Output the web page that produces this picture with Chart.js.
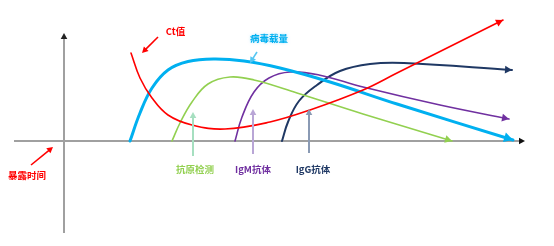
<!DOCTYPE html>
<html>
<head>
<meta charset="utf-8">
<script src="https://cdn.jsdelivr.net/npm/chart.js@4/dist/chart.umd.min.js"></script>
<style>
html,body{margin:0;padding:0;background:#fff;}
#wrap{width:554px;height:246px;position:relative;}
</style>
</head>
<body>
<div id="wrap"><canvas id="c" width="554" height="246"></canvas></div>
<script>
// ---- data (x = time units after exposure, y = relative level) ----
const ctX      = [6.7, 7.6, 8.8, 10.4, 12.8, 16.1, 20.6, 24.6, 29.9, 33.3, 43.9];
const ctY      = [8.8, 6.3, 4.3, 2.6, 1.6, 1.2, 1.9, 3.1, 5.1, 6.8, 12.1];
const viralX   = [6.6, 7.6, 8.8, 10.4, 12.4, 15.0, 18.0, 21.6, 26.6, 33.3, 44.9];
const viralY   = [0, 2.8, 5.3, 7.1, 7.95, 8.2, 8.0, 7.3, 5.9, 3.7, 0.1];
const antigenX = [10.8, 11.6, 12.8, 14.4, 16.6, 19.0, 23.3, 29.9, 38.8];
const antigenY = [0, 1.8, 3.9, 5.7, 6.4, 6.1, 4.8, 2.7, 0];
const igmX     = [17.1, 17.8, 19.0, 20.5, 22.6, 25.5, 29.9, 37.6, 44.5];
const igmY     = [0, 2.4, 4.9, 6.3, 6.9, 6.6, 5.4, 3.6, 2.2];
const iggX     = [21.8, 22.4, 23.5, 25.3, 27.6, 30.6, 34.0, 44.8];
const iggY     = [0, 1.9, 4.0, 5.6, 7.0, 7.7, 7.8, 7.1];

// axes extents
const axisXRange = [-5.0, 46.1];
const axisYRange = [-9.2, 10.8];

// annotation labels: text, x, y
const labelTexts = ['Ct值', '病毒载量', '抗原检测', 'IgM抗体', 'IgG抗体', '暴露时间'];
const labelX     = [11.15, 20.5, 13.1, 18.9, 24.9, -3.7];
const labelY     = [11.0, 10.3, -2.8, -2.8, -2.8, -3.4];

// pointer arrows: from (x0,y0) to tip (x1,y1)
const pointerX0 = [9.4, 19.3, 12.9, 18.9, 24.5, -3.3];
const pointerY0 = [10.4, 8.9, -1.5, -1.3, -1.2, -2.4];
const pointerX1 = [7.8, 18.6, 12.9, 18.9, 24.5, -1.1];
const pointerY1 = [8.8, 7.8, 2.9, 3.2, 3.2, -0.6];

const C = {
  ct: '#ff0000', viral: '#00b0f0', antigen: '#92d050', igm: '#7030a0', igg: '#1f3864'
};
const labelColors   = [C.ct, C.viral, C.antigen, C.igm, C.igg, C.ct];
const pointerColors = [C.ct, '#55c6f2', '#a6dfc0', '#b9a6d6', '#8a9ab4', C.ct];

function pts(xs, ys){ return xs.map((x,i)=>({x:x, y:ys[i]})); }

function arrowHead(ctx, x0, y0, x1, y1, size, color){
  const a = Math.atan2(y1-y0, x1-x0);
  ctx.save();
  ctx.fillStyle = color;
  ctx.beginPath();
  ctx.moveTo(x1, y1);
  ctx.lineTo(x1 - size*Math.cos(a) + size*0.55*Math.sin(a), y1 - size*Math.sin(a) - size*0.55*Math.cos(a));
  ctx.lineTo(x1 - size*Math.cos(a) - size*0.55*Math.sin(a), y1 - size*Math.sin(a) + size*0.55*Math.cos(a));
  ctx.closePath();
  ctx.fill();
  ctx.restore();
}

const axesPlugin = {
  id: 'axesPlugin',
  beforeDatasetsDraw(chart){
    const ctx = chart.ctx, xs = chart.scales.x, ys = chart.scales.y;
    const x0 = xs.getPixelForValue(0), y0 = ys.getPixelForValue(0);
    const xa = xs.getPixelForValue(axisXRange[0]), xb = xs.getPixelForValue(axisXRange[1]);
    const ya = ys.getPixelForValue(axisYRange[0]), yb = ys.getPixelForValue(axisYRange[1]);
    ctx.save();
    ctx.strokeStyle = '#a0a0a0';
    ctx.lineWidth = 2;
    ctx.beginPath();
    ctx.moveTo(xa, y0); ctx.lineTo(xb - 4, y0);
    ctx.moveTo(x0, ya); ctx.lineTo(x0, yb + 4);
    ctx.stroke();
    ctx.restore();
    arrowHead(ctx, xa, y0, xb, y0, 6, '#111');
    arrowHead(ctx, x0, ya, x0, yb, 6, '#222');
  },
  afterDatasetsDraw(chart){
    const ctx = chart.ctx, xs = chart.scales.x, ys = chart.scales.y;
    // arrowheads at curve ends
    chart.data.datasets.forEach((ds, i) => {
      const meta = chart.getDatasetMeta(i);
      const n = meta.data.length;
      const p = meta.data[n-1], q = meta.data[n-2];
      arrowHead(ctx, q.x, q.y, p.x, p.y, ds.headSize, ds.borderColor);
    });
    // pointer arrows
    for (let i = 0; i < pointerX0.length; i++){
      const ax = xs.getPixelForValue(pointerX0[i]), ay = ys.getPixelForValue(pointerY0[i]);
      const bx = xs.getPixelForValue(pointerX1[i]), by = ys.getPixelForValue(pointerY1[i]);
      const ang = Math.atan2(by-ay, bx-ax);
      ctx.save();
      ctx.strokeStyle = pointerColors[i];
      ctx.lineWidth = (i >= 2 && i <= 4) ? 2 : 1.6;
      ctx.beginPath();
      ctx.moveTo(ax, ay);
      ctx.lineTo(bx - 4*Math.cos(ang), by - 4*Math.sin(ang));
      ctx.stroke();
      ctx.restore();
      arrowHead(ctx, ax, ay, bx, by, 6, pointerColors[i]);
    }
    // labels
    ctx.save();
    ctx.textAlign = 'center';
    ctx.textBaseline = 'middle';
    for (let i = 0; i < labelTexts.length; i++){
      ctx.font = 'bold 9.5px "Noto Sans CJK SC", sans-serif';
      ctx.fillStyle = labelColors[i];
      if (i === 1){ ctx.shadowColor = 'rgba(120,210,250,0.6)'; ctx.shadowBlur = 3; }
      else { ctx.shadowColor = 'transparent'; ctx.shadowBlur = 0; }
      ctx.fillText(labelTexts[i], xs.getPixelForValue(labelX[i]), ys.getPixelForValue(labelY[i]));
    }
    ctx.restore();
  }
};

function ds(label, xs, ys, color, width, head){
  return {
    label: label,
    data: pts(xs, ys),
    borderColor: color,
    borderWidth: width,
    pointRadius: 0,
    fill: false,
    tension: 0.4,
    borderCapStyle: 'round',
    borderJoinStyle: 'round',
    headSize: head
  };
}

new Chart(document.getElementById('c'), {
  type: 'line',
  data: {
    datasets: [
      ds('Ct值', ctX, ctY, C.ct, 1.6, 7),
      ds('病毒载量', viralX, viralY, C.viral, 3, 9),
      ds('抗原检测', antigenX, antigenY, C.antigen, 1.6, 7),
      ds('IgM抗体', igmX, igmY, C.igm, 1.6, 7),
      ds('IgG抗体', iggX, iggY, C.igg, 2, 7)
    ]
  },
  options: {
    responsive: false,
    animation: false,
    events: [],
    layout: { padding: 0 },
    plugins: { legend: { display: false }, tooltip: { enabled: false } },
    scales: {
      x: { type: 'linear', min: -6.4, max: 49.0, display: false },
      y: { type: 'linear', min: -10.5, max: 14.1, display: false }
    }
  },
  plugins: [axesPlugin]
});
</script>
</body>
</html>
